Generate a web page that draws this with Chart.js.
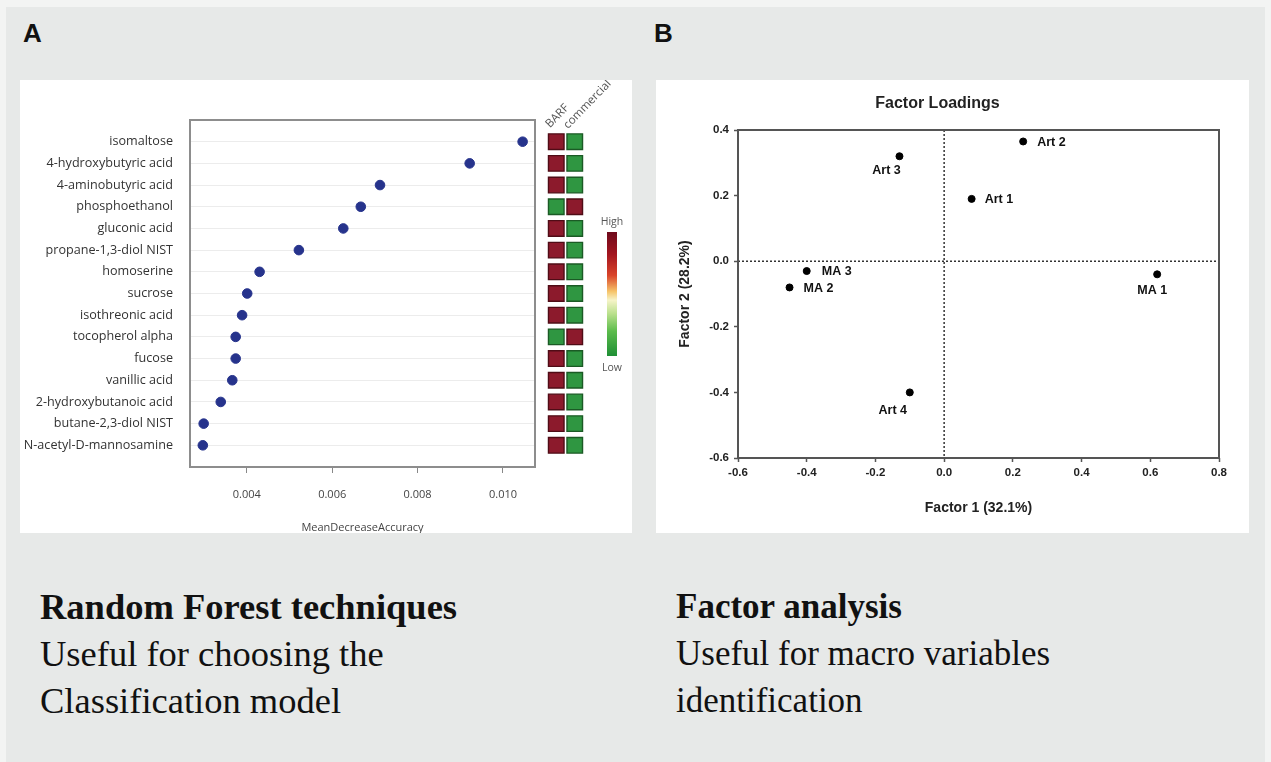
<!DOCTYPE html>
<html>
<head>
<meta charset="utf-8">
<script src="https://cdn.jsdelivr.net/npm/chart.js@4.4.0/dist/chart.umd.min.js"></script>
<style>
  html, body { margin: 0; padding: 0; }
  body { width: 1271px; height: 762px; background: #f3f4f3; position: relative; overflow: hidden; }
  .sheet { position: absolute; left: 6px; top: 7px; width: 1259px; height: 755px; background: #e7e9e8; }
  .panel { position: absolute; top: 80px; height: 453px; background: #fff; }
  #panelA { left: 20px; width: 612px; overflow: hidden; }
  #panelB { left: 656px; width: 593px; }
  .letter { position: absolute; top: 18px; font: bold 26px "Liberation Sans", Arial, sans-serif; color: #111; }
  .panel canvas { position: absolute; }
  .colhead { position: absolute; font: 11.5px/16px "Open Sans", sans-serif; color: #555; transform-origin: 0 100%; transform: rotate(-46deg); white-space: nowrap; }
  .scalebar { position: absolute; left: 587px; top: 152px; width: 10px; height: 124px;
    background: linear-gradient(#6e0a1c 0%, #a3151f 18%, #d9442a 35%, #f6c46a 48%, #f6f4c8 55%, #b9e08c 66%, #5cbc4c 80%, #1f8f35 100%); }
  .scaletxt { position: absolute; font: 10.5px "Open Sans", sans-serif; color: #555; width: 40px; text-align: center; }
  .caption { position: absolute; top: 583px; font-family: "Liberation Serif", "Times New Roman", serif; font-size: 36.5px; line-height: 47px; color: #111; }
  .caption b { font-weight: bold; }
</style>
</head>
<body>
<div class="sheet"></div>
<div class="letter" style="left:23px">A</div>
<div class="letter" style="left:654px">B</div>

<div class="panel" id="panelA">
  <canvas id="rfChart" width="612" height="453" style="left:0;top:0"></canvas>
  <canvas id="heatChart" width="37" height="347" style="left:527px;top:40px"></canvas>
  <div class="colhead" style="left:533px;top:35px">BARF</div>
  <div class="colhead" style="left:551px;top:36px">commercial</div>
  <div class="scaletxt" style="left:572px;top:134px">High</div>
  <div class="scalebar"></div>
  <div class="scaletxt" style="left:572px;top:280px">Low</div>
</div>

<div class="panel" id="panelB">
  <canvas id="faChart" width="593" height="453" style="left:0;top:0"></canvas>
</div>

<div class="caption" style="left:40px"><b>Random Forest techniques</b><br>Useful for choosing the<br>Classification model</div>
<div class="caption" style="left:676px;font-size:35px"><b>Factor analysis</b><br>Useful for macro variables<br>identification</div>

<script>
const metabolites = ['isomaltose', '4-hydroxybutyric acid', '4-aminobutyric acid', 'phosphoethanol',
  'gluconic acid', 'propane-1,3-diol NIST', 'homoserine', 'sucrose', 'isothreonic acid',
  'tocopherol alpha', 'fucose', 'vanillic acid', '2-hydroxybutanoic acid', 'butane-2,3-diol NIST',
  'N-acetyl-D-mannosamine'];
const meanDecreaseAccuracy = [0.01046, 0.00922, 0.00712, 0.00667, 0.00626, 0.00522, 0.00430, 0.00401,
  0.00389, 0.00374, 0.00374, 0.00366, 0.00339, 0.00299, 0.00297];
const accuracyTicks = [0.004, 0.006, 0.008, 0.010];

// 1 = high, 0 = low
const barfLevel       = [1, 1, 1, 0, 1, 1, 1, 1, 1, 0, 1, 1, 1, 1, 1];
const commercialLevel = [0, 0, 0, 1, 0, 0, 0, 0, 0, 1, 0, 0, 0, 0, 0];
const heatGroups = ['BARF', 'commercial'];

const factorNames = ['Art 1', 'Art 2', 'Art 3', 'Art 4', 'MA 1', 'MA 2', 'MA 3'];
const factor1 = [0.08, 0.23, -0.13, -0.10, 0.62, -0.45, -0.40];
const factor2 = [0.19, 0.365, 0.32, -0.40, -0.04, -0.08, -0.03];

Chart.defaults.animation = false;
Chart.defaults.responsive = false;
Chart.defaults.layout.autoPadding = false;
Chart.defaults.plugins.legend.display = false;
Chart.defaults.plugins.tooltip.enabled = false;

function frame(id, color, width) {
  return {
    id: id,
    afterDraw(chart) {
      const a = chart.chartArea, ctx = chart.ctx;
      ctx.save();
      ctx.strokeStyle = color;
      ctx.lineWidth = width;
      ctx.strokeRect(a.left, a.top, a.right - a.left, a.bottom - a.top);
      ctx.restore();
    }
  };
}

// ---- A: random forest dot plot
const sans = '"Open Sans", Lato, sans-serif';
new Chart(document.getElementById('rfChart'), {
  type: 'scatter',
  data: {
    datasets: [{
      data: meanDecreaseAccuracy.map((v, i) => ({ x: v, y: i })),
      pointRadius: 4.8,
      pointBackgroundColor: '#26338c',
      pointBorderColor: '#26338c',
      clip: false
    }]
  },
  options: {
    layout: { padding: { top: 40, right: 97, left: 0, bottom: 0 } },
    scales: {
      x: {
        type: 'linear', min: 0.00267, max: 0.01075,
        afterBuildTicks: s => { s.ticks = accuracyTicks.map(v => ({ value: v })); },
        afterFit: s => { s.height = 66; },
        ticks: { callback: v => v.toFixed(3), padding: 15, color: '#444', font: { family: sans, size: 11 } },
        grid: { drawOnChartArea: false, tickLength: 6, color: '#888' },
        border: { display: false },
        title: { display: true, text: 'MeanDecreaseAccuracy', color: '#444', padding: 0,
                 font: { family: sans, size: 11, lineHeight: 1 } }
      },
      y: {
        type: 'linear', min: -1, max: 15, reverse: true,
        afterBuildTicks: s => { s.ticks = metabolites.map((m, i) => ({ value: i })); },
        afterFit: s => { s.width = 170; },
        ticks: { callback: v => metabolites[v], padding: 17, autoSkip: false, color: '#333',
                 font: { family: sans, size: 12.6 } },
        grid: { color: '#ececec', drawTicks: false },
        border: { display: false }
      }
    }
  },
  plugins: [frame('rfFrame', '#8d8d8d', 2)]
});

// heatmap of BARF / commercial levels, on the same row scale
const high = '#8c1a2c', highEdge = '#4f0c16', low = '#2f9641', lowEdge = '#1b5a25';
new Chart(document.getElementById('heatChart'), {
  type: 'scatter',
  data: {
    datasets: [barfLevel, commercialLevel].map((levels, g) => ({
      label: heatGroups[g],
      data: levels.map((lv, i) => ({ x: g, y: i })),
      pointStyle: 'rect',
      pointRadius: 11,
      borderWidth: 1.4,
      clip: false,
      pointBackgroundColor: levels.map(lv => lv ? high : low),
      pointBorderColor: levels.map(lv => lv ? highEdge : lowEdge)
    }))
  },
  options: {
    layout: { padding: 0 },
    scales: {
      x: { type: 'linear', min: -0.5, max: 1.5, display: false },
      y: { type: 'linear', min: -1, max: 15, reverse: true, display: false }
    }
  }
});

// ---- B: factor loadings
const arial = '"Liberation Sans", Arial, sans-serif';
const labelPlacement = {
  'Art 1': [13, 1, 'left'], 'Art 2': [14, 1, 'left'], 'Art 3': [-13, 14, 'center'],
  'Art 4': [-17, 18, 'center'], 'MA 1': [-5, 16, 'center'], 'MA 2': [14, 1, 'left'], 'MA 3': [15, 1, 'left']
};
const fmt1 = v => (Math.abs(v) < 1e-9 ? 0 : v).toFixed(1);

new Chart(document.getElementById('faChart'), {
  type: 'scatter',
  data: {
    datasets: [{
      data: factor1.map((v, i) => ({ x: v, y: factor2[i] })),
      pointRadius: 3.5,
      pointBackgroundColor: '#000',
      pointBorderColor: '#000'
    }]
  },
  options: {
    layout: { padding: { top: 0, right: 30, left: 0, bottom: 0 } },
    plugins: {
      title: { display: true, text: 'Factor Loadings', color: '#222', padding: { top: 14, bottom: 16.8 },
               font: { family: arial, size: 16, weight: 'bold' } }
    },
    scales: {
      x: {
        type: 'linear', min: -0.6, max: 0.8,
        afterFit: s => { s.height = 75; },
        ticks: { stepSize: 0.2, callback: fmt1, padding: 4, color: '#222', font: { family: arial, size: 11.5, weight: 'bold' } },
        grid: { drawOnChartArea: false, tickLength: 4, color: '#555', tickWidth: 1.5 },
        border: { display: false },
        title: { display: true, text: 'Factor 1 (32.1%)', color: '#222', padding: { bottom: 16.6, top: 0 },
                 font: { family: arial, size: 14, weight: 'bold' } }
      },
      y: {
        type: 'linear', min: -0.6, max: 0.4,
        afterFit: s => { s.width = 82; },
        ticks: { stepSize: 0.2, callback: fmt1, padding: 5, color: '#222', font: { family: arial, size: 11.5, weight: 'bold' } },
        grid: { drawOnChartArea: false, tickLength: 4, color: '#555', tickWidth: 1.5 },
        border: { display: false },
        title: { display: true, text: 'Factor 2 (28.2%)', color: '#222', padding: { top: 20.6, bottom: 0 },
                 font: { family: arial, size: 14, weight: 'bold' } }
      }
    }
  },
  plugins: [{
    id: 'zeroLines',
    beforeDatasetsDraw(chart) {
      const { ctx, chartArea: a, scales: { x, y } } = chart;
      const x0 = x.getPixelForValue(0), y0 = y.getPixelForValue(0);
      ctx.save();
      ctx.strokeStyle = '#333';
      ctx.lineWidth = 1.5;
      ctx.setLineDash([2, 2]);
      ctx.beginPath();
      ctx.moveTo(x0, a.top); ctx.lineTo(x0, a.bottom);
      ctx.moveTo(a.left, y0); ctx.lineTo(a.right, y0);
      ctx.stroke();
      ctx.restore();
    }
  }, {
    id: 'pointNames',
    afterDatasetsDraw(chart) {
      const ctx = chart.ctx;
      ctx.save();
      ctx.fillStyle = '#111';
      ctx.font = 'bold 12.5px ' + arial;
      ctx.textBaseline = 'middle';
      chart.getDatasetMeta(0).data.forEach((pt, i) => {
        const p = labelPlacement[factorNames[i]];
        ctx.textAlign = p[2];
        ctx.fillText(factorNames[i], pt.x + p[0], pt.y + p[1]);
      });
      ctx.restore();
    }
  }, frame('faFrame', '#555', 2)]
});
</script>
</body>
</html>
